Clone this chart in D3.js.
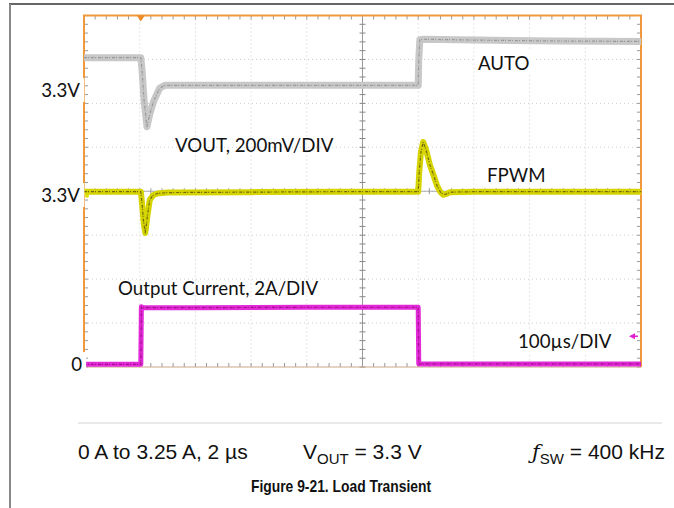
<!DOCTYPE html>
<html>
<head>
<meta charset="utf-8">
<script src="https://cdn.jsdelivr.net/npm/d3@7"></script>
<style>
  html, body { margin: 0; padding: 0; background: #fff; }
  svg { display: block; }
</style>
</head>
<body>
<script>
// ---- data (time in µs, level in scope divisions from bottom) ----
const autoTime  = [0, 102, 104, 108, 113, 118, 125, 136, 145, 300, 450, 600, 601, 603, 610, 700, 850, 1000];
const autoLevel = [7.04, 7.04, 6.80, 6.05, 5.47, 5.75, 6.05, 6.35, 6.41, 6.41, 6.41, 6.41, 7.0, 7.45, 7.46, 7.44, 7.42, 7.41];

const fpwmTime  = [0, 102, 104, 107, 110, 114, 118, 124, 132, 150, 300, 450, 600, 602, 605, 609, 614, 621, 628, 634, 640, 645, 651, 657, 700, 850, 1000];
const fpwmLevel = [3.99, 3.99, 3.75, 3.30, 3.05, 3.45, 3.80, 3.91, 3.95, 3.97, 3.98, 3.99, 3.99, 4.45, 4.90, 5.12, 4.95, 4.60, 4.35, 4.12, 3.98, 3.92, 3.94, 3.98, 3.99, 3.99, 3.99];

const curTime  = [0, 102, 103, 106, 200, 400, 600, 601, 700, 1000];
const curLevel = [0.06, 0.06, 1.37, 1.35, 1.35, 1.36, 1.36, 0.07, 0.07, 0.07];

const xDivs = d3.range(0, 11);      // 100 µs/div
const yDivs = d3.range(0, 9);
const captionParts = ["0 A to 3.25 A, 2 µs", "= 3.3 V", "= 400 kHz"];

// ---- setup ----
const W = 674, H = 508;
const svg = d3.select("body").append("svg").attr("width", W).attr("height", H);
svg.append("rect").attr("width", W).attr("height", H).attr("fill", "#fff");

// page frame
svg.append("line").attr("x1", 9).attr("x2", W).attr("y1", 4).attr("y2", 4)
  .attr("stroke", "#333").attr("stroke-width", 1.6);
svg.append("line").attr("x1", 10).attr("x2", 10).attr("y1", 4).attr("y2", H)
  .attr("stroke", "#888").attr("stroke-width", 2);

const x = d3.scaleLinear().domain([0, 1000]).range([84, 641]);
const y = d3.scaleLinear().domain([0, 8]).range([367, 15.5]);
const X0 = x(0), X1 = x(1000), Y0 = y(0), Y1 = y(8);

const g = svg.append("g");
g.append("rect").attr("x", X0).attr("y", Y1).attr("width", X1 - X0).attr("height", Y0 - Y1).attr("fill", "#fff");

// dotted grid
g.selectAll("line.vg").data(xDivs.slice(1, -1)).join("line")
  .attr("x1", d => x(d * 100)).attr("x2", d => x(d * 100))
  .attr("y1", Y1).attr("y2", Y0)
  .attr("stroke", "#cfcfcf").attr("stroke-width", 1).attr("stroke-dasharray", "1,3");
g.selectAll("line.hg").data(yDivs.slice(1, -1)).join("line")
  .attr("x1", X0).attr("x2", X1)
  .attr("y1", d => y(d)).attr("y2", d => y(d))
  .attr("stroke", "#cfcfcf").attr("stroke-width", 1).attr("stroke-dasharray", "1,3");

// centre cross
g.append("line").attr("x1", x(500)).attr("x2", x(500)).attr("y1", Y1).attr("y2", Y0)
  .attr("stroke", "#999").attr("stroke-width", 1);
g.append("line").attr("x1", X0).attr("x2", X1).attr("y1", y(4)).attr("y2", y(4))
  .attr("stroke", "#aaa").attr("stroke-width", 1);

const minorX = d3.range(0, 1000.01, 20);
const minorY = d3.range(0, 8.001, 0.2);
// ticks on centre lines
g.selectAll("line.cx").data(minorY).join("line")
  .attr("x1", x(500) - 3).attr("x2", x(500) + 3)
  .attr("y1", d => y(d)).attr("y2", d => y(d))
  .attr("stroke", "#888").attr("stroke-width", 1);
g.selectAll("line.cy").data(minorX).join("line")
  .attr("x1", d => x(d)).attr("x2", d => x(d))
  .attr("y1", y(4) - 3).attr("y2", y(4) + 3)
  .attr("stroke", "#999").attr("stroke-width", 1);
// ticks on border
g.selectAll("line.tt").data(minorX).join("line")
  .attr("x1", d => x(d)).attr("x2", d => x(d)).attr("y1", Y1).attr("y2", Y1 + 4)
  .attr("stroke", "#999").attr("stroke-width", 1);
g.selectAll("line.bt").data(minorX).join("line")
  .attr("x1", d => x(d)).attr("x2", d => x(d)).attr("y1", Y0).attr("y2", Y0 - 4)
  .attr("stroke", "#999").attr("stroke-width", 1);
g.selectAll("line.lt").data(minorY).join("line")
  .attr("x1", X0).attr("x2", X0 + 4).attr("y1", d => y(d)).attr("y2", d => y(d))
  .attr("stroke", "#999").attr("stroke-width", 1);
g.selectAll("line.rt").data(minorY).join("line")
  .attr("x1", X1).attr("x2", X1 - 4).attr("y1", d => y(d)).attr("y2", d => y(d))
  .attr("stroke", "#999").attr("stroke-width", 1);

// border
g.append("line").attr("x1", X0).attr("x2", X1).attr("y1", Y0).attr("y2", Y0).attr("stroke", "#c8a882").attr("stroke-width", 1);
g.append("path").attr("d", `M${X0},${Y0}V${Y1}H${X1}V${Y0}`)
  .attr("fill", "none").attr("stroke", "#f0993c").attr("stroke-width", 2);

// trigger marker
g.append("path").attr("d", `M${x(102) - 4},${Y1}L${x(102) + 4},${Y1}L${x(102)},${Y1 + 6}Z`).attr("fill", "#f08c28");

// ---- traces ----
const line = d3.line().x(d => x(d[0])).y(d => y(d[1]));
function trace(t, v, band, bandW, core, coreW) {
  const pts = d3.zip(t, v);
  g.append("path").attr("d", line(pts)).attr("fill", "none")
    .attr("stroke", band).attr("stroke-width", bandW).attr("stroke-linejoin", "round");
  g.append("path").attr("d", line(pts)).attr("fill", "none")
    .attr("stroke", core).attr("stroke-width", coreW).attr("stroke-dasharray", "3,1,1,2").attr("stroke-linejoin", "round");
}
trace(autoTime, autoLevel, "#c8c8c8", 7, "#999999", 1.2);
trace(fpwmTime, fpwmLevel, "#d6d400", 6, "#6f6a10", 1.2);
trace(curTime, curLevel, "#e22ad8", 5, "#a0108c", 1.2);

// channel markers
g.append("circle").attr("cx", X0 + 3).attr("cy", y(3.9)).attr("r", 2).attr("fill", "#e0e000");
g.append("path").attr("d", `M${X1 - 12},${y(0.7)}L${X1 - 6},${y(0.7) - 3}L${X1 - 6},${y(0.7) + 3}Z`).attr("fill", "#e020d0");
g.append("line").attr("x1", X1 - 8).attr("x2", X1 - 3).attr("y1", y(0.7)).attr("y2", y(0.7)).attr("stroke", "#e020d0").attr("stroke-width", 1.5);

// ---- labels ----
const labFont = "Lato, 'Open Sans', sans-serif";
function label(txt, xx, yy, anchor, bg) {
  const t = svg.append("text").attr("x", xx).attr("y", yy).attr("text-anchor", anchor || "start")
    .attr("font-family", labFont).attr("font-size", 18.7).attr("fill", "#111").text(txt);
  if (bg) {
    const b = t.node().getBBox();
    svg.insert("rect", () => t.node()).attr("x", b.x - 2).attr("y", b.y - 1)
      .attr("width", b.width + 6).attr("height", b.height + 2).attr("fill", "#fff");
  }
  return t;
}
label("3.3V", 80, 97, "end", true);
label("3.3V", 80, 202, "end", true);
label("0", 82, 371, "end", true);
label("VOUT, 200mV/DIV", 175, 152);
label("AUTO", 478, 70, "start", true);
label("FPWM", 487, 182);
label("Output Current, 2A/DIV", 118, 295);
label("100µs/DIV", 518, 348, "start", true);

// ---- caption ----
svg.append("line").attr("x1", 78).attr("x2", 662).attr("y1", 423).attr("y2", 423)
  .attr("stroke", "#d4d4d4").attr("stroke-width", 1);
const capFont = "'Liberation Sans', Arial, sans-serif";
const cap = svg.append("g").attr("font-family", capFont).attr("font-size", 21).attr("fill", "#111");
cap.append("text").attr("x", 78).attr("y", 459).text(captionParts[0]);
const v = cap.append("text").attr("x", 303).attr("y", 459);
v.append("tspan").text("V");
v.append("tspan").attr("font-size", 15).attr("dy", 5).text("OUT");
v.append("tspan").attr("dy", -5).text(" " + captionParts[1]);
const f = cap.append("text").attr("x", 532).attr("y", 459);
f.append("tspan").attr("font-style", "italic").attr("font-family", "'DejaVu Serif', serif").text("ƒ");
f.append("tspan").attr("font-size", 15).attr("dy", 5).text("SW");
f.append("tspan").attr("dy", -5).text(" " + captionParts[2]);
svg.append("text").attr("x", 341).attr("y", 492).attr("text-anchor", "middle")
  .attr("font-family", capFont).attr("font-weight", "bold").attr("font-size", 17).attr("fill", "#111")
  .attr("textLength", 180).attr("lengthAdjust", "spacingAndGlyphs")
  .text("Figure 9-21. Load Transient");
</script>
</body>
</html>
